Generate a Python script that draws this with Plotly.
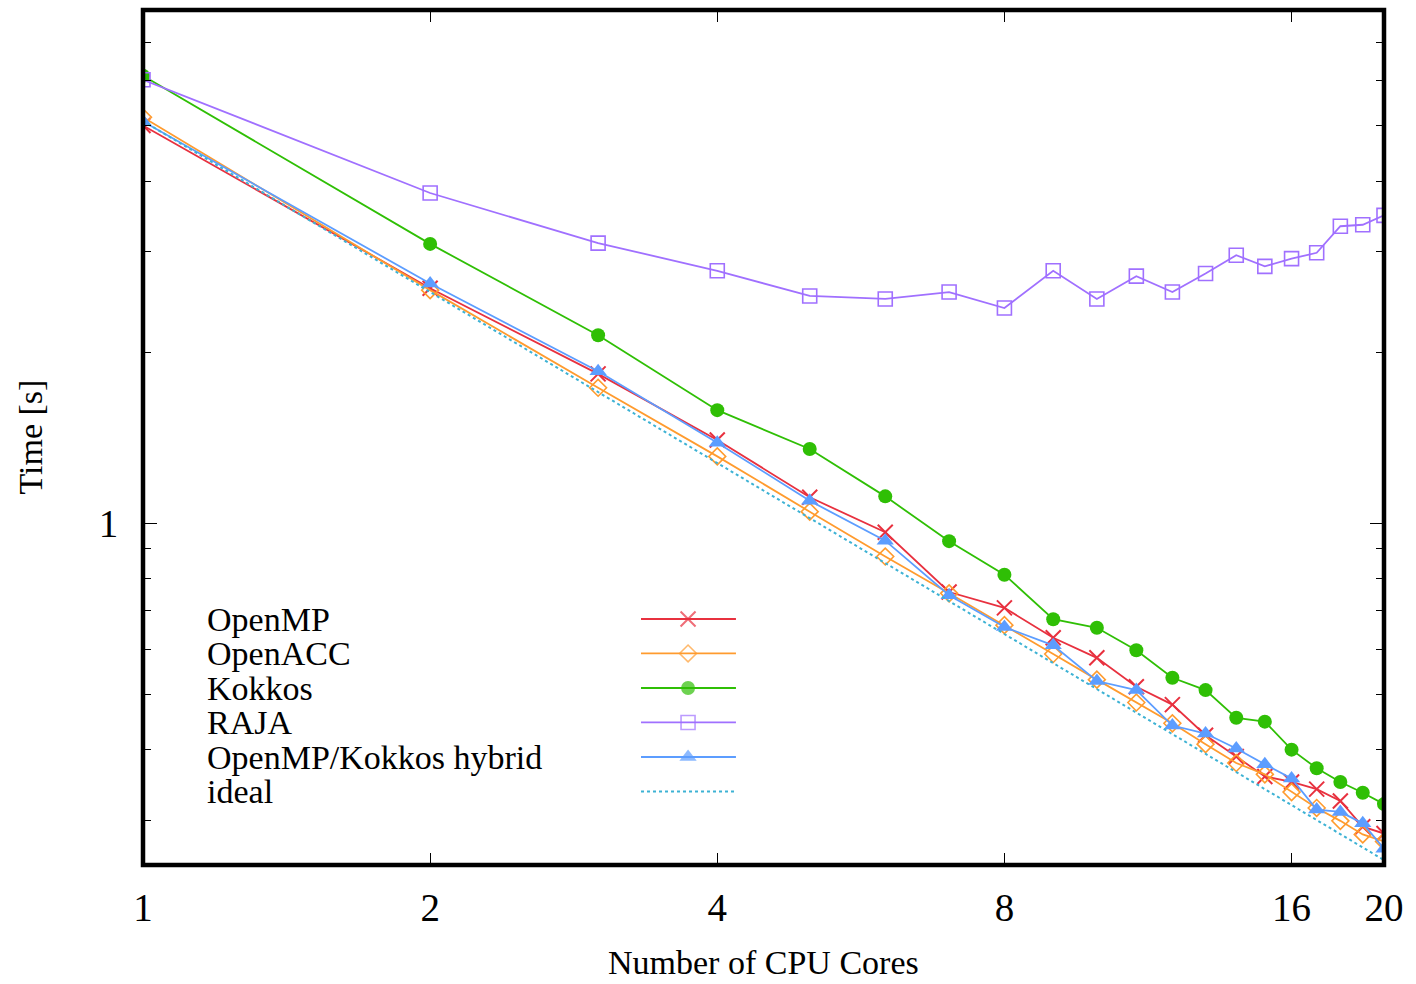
import plotly.graph_objects as go

# ---------------- data ----------------
cores = [1, 2, 3, 4, 5, 6, 7, 8, 9, 10, 11, 12, 13, 14, 15, 16, 17, 18, 19, 20]

openmp = [5.01, 2.59, 1.83, 1.40, 1.11, 0.963, 0.756, 0.709, 0.628, 0.579,
          0.515, 0.479, 0.423, 0.388, 0.358, 0.350, 0.340, 0.324, 0.292, 0.284]
openacc = [5.18, 2.57, 1.73, 1.31, 1.047, 0.873, 0.752, 0.661, 0.588, 0.530,
           0.483, 0.444, 0.408, 0.378, 0.361, 0.336, 0.315, 0.299, 0.283, 0.275]
kokkos = [6.13, 3.10, 2.14, 1.58, 1.35, 1.114, 0.929, 0.811, 0.677, 0.654,
          0.597, 0.534, 0.508, 0.454, 0.447, 0.399, 0.370, 0.350, 0.335, 0.320]
raja = [6.03, 3.81, 3.11, 2.78, 2.51, 2.48, 2.55, 2.39, 2.78, 2.48,
        2.72, 2.55, 2.75, 2.96, 2.83, 2.92, 2.99, 3.33, 3.35, 3.48]
hybrid = [5.09, 2.64, 1.85, 1.385, 1.094, 0.931, 0.746, 0.656, 0.609, 0.527,
          0.508, 0.440, 0.426, 0.401, 0.376, 0.355, 0.313, 0.310, 0.296, 0.267]
ideal = [5.10, 2.55, 1.70, 1.275, 1.02, 0.85, 0.729, 0.6375, 0.567, 0.51,
         0.464, 0.425, 0.392, 0.364, 0.34, 0.319, 0.30, 0.283, 0.268, 0.255]

series_names = ["OpenMP", "OpenACC", "Kokkos", "RAJA", "OpenMP/Kokkos hybrid", "ideal"]
x_tick_vals = [1, 2, 4, 8, 16, 20]
x_tick_text = ["1", "2", "4", "8", "16", "20"]
y_major_vals = [1]
y_major_text = ["1"]
y_minor_vals = [0.3, 0.4, 0.5, 0.6, 0.7, 0.8, 0.9, 2, 3, 4, 5, 6, 7, 8]

# ---------------- styles ----------------
FONT = "Liberation Serif"
styles = [
    dict(color="#e8313f", symbol="x-thin-open", size=15, mline=2),
    dict(color="#ff9b2e", symbol="diamond-open", size=13, mline=1.6),
    dict(color="#2fbf05", symbol="circle", size=14, mline=0),
    dict(color="#a070ff", symbol="square-open", size=14, mline=1.6),
    dict(color="#5c9dff", symbol="triangle-up", size=15, mline=0),
]
ideal_color = "#3db2d4"

fig = go.Figure()

all_series = [openmp, openacc, kokkos, raja, hybrid]
for name, vals, st in zip(series_names[:5], all_series, styles):
    fig.add_trace(go.Scatter(
        x=cores, y=vals, name=name, mode="lines+markers",
        line=dict(color=st["color"], width=1.8),
        marker=dict(symbol=st["symbol"], size=st["size"], color=st["color"],
                    line=dict(color=st["color"], width=st["mline"])),
        showlegend=False,
    ))
fig.add_trace(go.Scatter(
    x=cores, y=ideal, name="ideal", mode="lines",
    line=dict(color=ideal_color, width=2, dash="dot"),
    showlegend=False,
))

# ---------------- gnuplot-style key (text left, sample right) ----------------
key_x0, key_xm, key_x1 = 0.4013, 0.4392, 0.4778
key_rows = [0.2877, 0.2474, 0.2070, 0.1667, 0.1263, 0.0860]
key_text_x = 0.050
annotations = []
for i, name in enumerate(series_names):
    yk = key_rows[i]
    annotations.append(dict(
        x=key_text_x, y=yk, xref="paper", yref="paper", text=name,
        showarrow=False, xanchor="left", yanchor="middle",
        font=dict(family=FONT, size=34, color="black")))
    if i < 5:
        st = styles[i]
        fig.add_trace(go.Scatter(
            x=[key_x0, key_xm, key_x1], y=[yk, yk, yk], xaxis="x2", yaxis="y2",
            mode="lines+markers", hoverinfo="skip", showlegend=False,
            line=dict(color=st["color"], width=1.8),
            marker=dict(symbol=st["symbol"], size=[0, st["size"], 0], color=st["color"],
                        line=dict(color=st["color"], width=st["mline"])),
        ))
    else:
        fig.add_trace(go.Scatter(
            x=[key_x0, key_x1], y=[yk, yk], xaxis="x2", yaxis="y2",
            mode="lines", hoverinfo="skip", showlegend=False,
            line=dict(color=ideal_color, width=2, dash="dot"),
        ))

# axis titles
annotations.append(dict(
    x=0.5, y=-0.1135, xref="paper", yref="paper", text="Number of CPU Cores",
    showarrow=False, xanchor="center", yanchor="middle",
    font=dict(family=FONT, size=34, color="black")))
annotations.append(dict(
    x=-0.091, y=0.5, xref="paper", yref="paper", text="Time [s]", textangle=-90,
    showarrow=False, xanchor="center", yanchor="middle",
    font=dict(family=FONT, size=34, color="black")))

fig.update_layout(
    width=1416, height=984,
    margin=dict(l=143, r=32, t=10, b=119),
    paper_bgcolor="white", plot_bgcolor="white",
    font=dict(family=FONT, size=38, color="black"),
    annotations=annotations,
    xaxis=dict(
        type="log", range=[0, 1.30103],
        tickvals=x_tick_vals, ticktext=x_tick_text,
        ticks="inside", ticklen=12, tickwidth=1, tickcolor="black",
        showline=True, linewidth=1, linecolor="black", mirror="ticks",
        showgrid=False, zeroline=False, ticklabelstandoff=8,
        tickfont=dict(family=FONT, size=39, color="black"),
    ),
    yaxis=dict(
        type="log", range=[-0.60206, 0.90309],
        tickvals=y_major_vals, ticktext=y_major_text,
        ticks="inside", ticklen=14, tickwidth=1, tickcolor="black",
        showline=True, linewidth=1, linecolor="black", mirror="ticks",
        showgrid=False, zeroline=False, ticklabelstandoff=16,
        tickfont=dict(family=FONT, size=39, color="black"),
        minor=dict(tickvals=y_minor_vals, ticks="inside", ticklen=8,
                   tickwidth=1, tickcolor="black", showgrid=False),
    ),
    xaxis2=dict(overlaying="x", range=[0, 1], visible=False, showgrid=False,
                zeroline=False, fixedrange=True),
    yaxis2=dict(overlaying="y", range=[0, 1], visible=False, showgrid=False,
                zeroline=False, fixedrange=True),
    shapes=[dict(type="rect", xref="paper", yref="paper", x0=0, y0=0, x1=1, y1=1,
                 line=dict(color="black", width=4.5), layer="above")],
)

# remove the browser's default 8px body margin so the figure fills the window
fig.write_html(
    "out.html",
    config={"displayModeBar": False},
    post_script="document.body.style.margin='0px';document.body.style.overflow='hidden';",
)
